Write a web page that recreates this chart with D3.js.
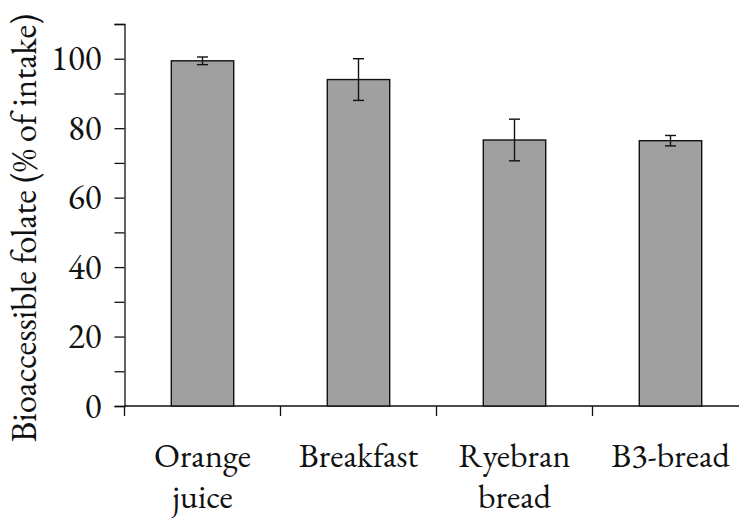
<!DOCTYPE html>
<html>
<head>
<meta charset="utf-8">
<script src="https://cdn.jsdelivr.net/npm/d3@7"></script>
<style>
  html, body { margin: 0; padding: 0; background: #fff; }
  svg { display: block; }
</style>
</head>
<body>
<svg id="chart" width="739" height="518"></svg>
<script>
// Bioaccessible folate by food, mean ± SD (% of intake)
const categories = [["Orange", "juice"], ["Breakfast"], ["Ryebran", "bread"], ["B3-bread"]];
const means = [99.4, 94.0, 76.6, 76.4];
const errors = [1.1, 6.0, 6.0, 1.5];
const yTicks = [0, 10, 20, 30, 40, 50, 60, 70, 80, 90, 100, 110];
const yLabelTicks = [0, 20, 40, 60, 80, 100];
const yTitle = "Bioaccessible folate (% of intake)";

const FONT = "'EB Garamond'";

const svg = d3.select("#chart");
const margin = { left: 124.5, top: 24, bottom: 112 };
const plotBottom = 518 - margin.bottom;
const bandW = 156;

const x = d3.scaleBand()
  .domain(categories.map((d, i) => i))
  .range([margin.left, margin.left + bandW * categories.length])
  .paddingInner(0.6).paddingOuter(0.3);

const y = d3.scaleLinear().domain([0, 110]).range([plotBottom, margin.top]);

// y axis: ticks every 10, labels every 20
const yAxis = d3.axisLeft(y)
  .tickValues(yTicks)
  .tickSize(10)
  .tickPadding(13)
  .tickFormat(d => yLabelTicks.includes(d) ? d : "");
const gy = svg.append("g").attr("transform", `translate(${margin.left},0)`).call(yAxis);
gy.attr("font-family", null).attr("font-size", null);
gy.select(".domain").attr("stroke", "#111").attr("stroke-width", 1.3);
gy.selectAll(".tick line").attr("stroke", "#111").attr("stroke-width", 1.3);
gy.selectAll(".tick text")
  .style("font-family", FONT).style("font-size", "35px").attr("fill", "#111");

// x axis line and category dividers
const xEnd = margin.left + bandW * categories.length;
svg.append("line")
  .attr("x1", margin.left).attr("x2", xEnd)
  .attr("y1", y(0)).attr("y2", y(0))
  .attr("stroke", "#111").attr("stroke-width", 1.3);
svg.selectAll(".xdiv").data(d3.range(categories.length + 1)).join("line")
  .attr("class", "xdiv")
  .attr("x1", i => margin.left + i * bandW).attr("x2", i => margin.left + i * bandW)
  .attr("y1", y(0)).attr("y2", y(0) + 10)
  .attr("stroke", "#111").attr("stroke-width", 1.3);

// bars
svg.selectAll(".bar").data(means).join("rect")
  .attr("class", "bar")
  .attr("x", (d, i) => x(i))
  .attr("y", d => y(d))
  .attr("width", x.bandwidth())
  .attr("height", d => y(0) - y(d))
  .attr("fill", "#a0a0a0")
  .attr("stroke", "#111")
  .attr("stroke-width", 1.4);

// error bars
const capW = 11;
const eb = svg.selectAll(".err").data(means).join("g").attr("class", "err")
  .attr("stroke", "#111").attr("stroke-width", 1.4);
eb.append("line")
  .attr("x1", (d, i) => x(i) + x.bandwidth() / 2).attr("x2", (d, i) => x(i) + x.bandwidth() / 2)
  .attr("y1", (d, i) => y(d + errors[i])).attr("y2", (d, i) => y(d - errors[i]));
eb.append("line")
  .attr("x1", (d, i) => x(i) + x.bandwidth() / 2 - capW / 2).attr("x2", (d, i) => x(i) + x.bandwidth() / 2 + capW / 2)
  .attr("y1", (d, i) => y(d + errors[i])).attr("y2", (d, i) => y(d + errors[i]));
eb.append("line")
  .attr("x1", (d, i) => x(i) + x.bandwidth() / 2 - capW / 2).attr("x2", (d, i) => x(i) + x.bandwidth() / 2 + capW / 2)
  .attr("y1", (d, i) => y(d - errors[i])).attr("y2", (d, i) => y(d - errors[i]));

// category labels
svg.selectAll(".cat").data(categories).join("text")
  .attr("class", "cat")
  .attr("text-anchor", "middle")
  .attr("fill", "#111")
  .style("font-family", FONT).style("font-size", "34px")
  .each(function(lines, i) {
    const t = d3.select(this);
    lines.forEach((ln, j) => {
      t.append("tspan")
        .attr("x", x(i) + x.bandwidth() / 2)
        .attr("y", 467 + j * 41)
        .text(ln);
    });
  });

// y axis title
svg.append("text")
  .attr("transform", "translate(36,228) rotate(-90)")
  .attr("text-anchor", "middle")
  .attr("fill", "#111")
  .style("font-family", FONT).style("font-size", "35px")
  .text(yTitle);
</script>
</body>
</html>
